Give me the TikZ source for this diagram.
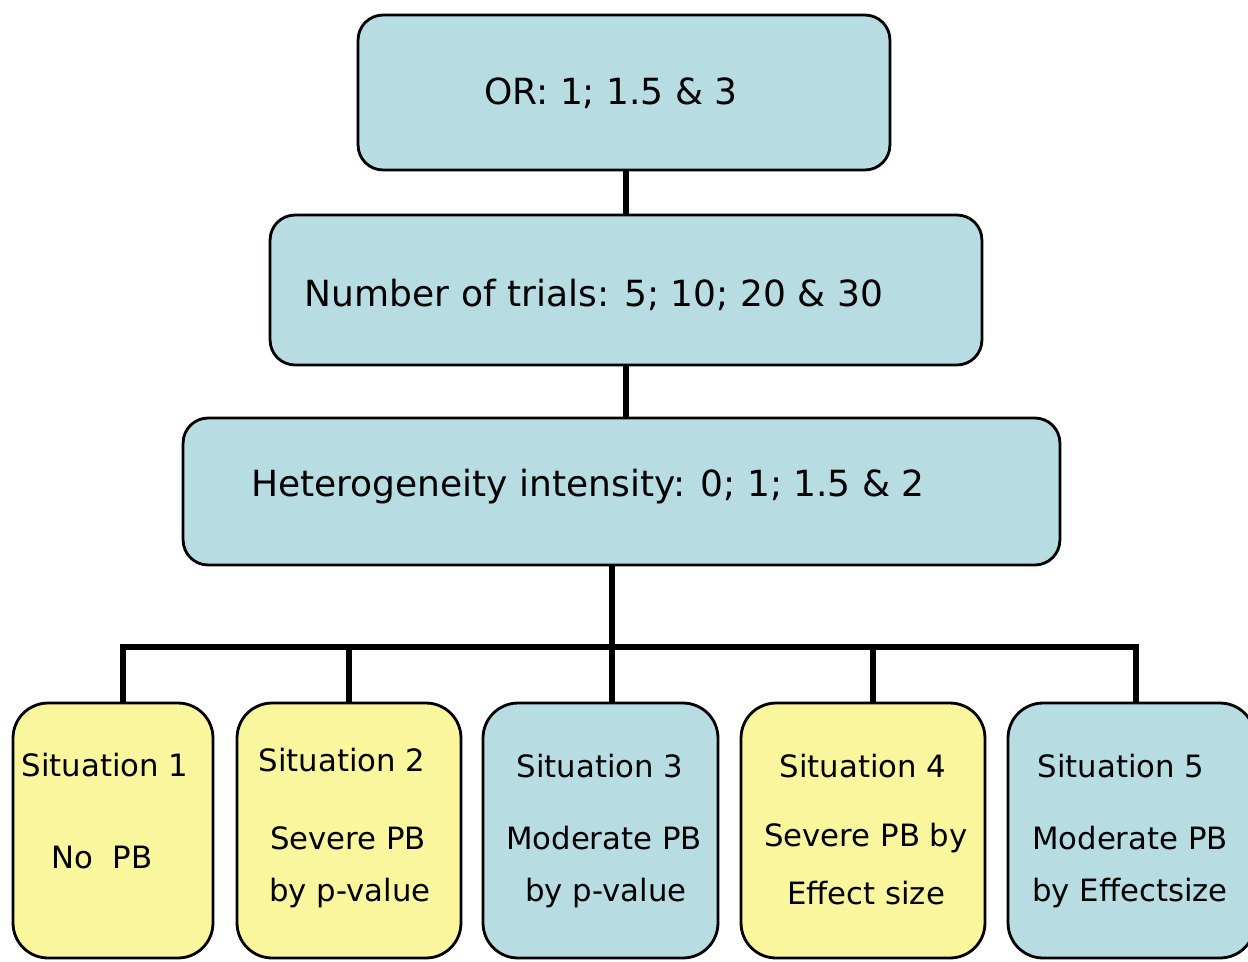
\documentclass[tikz,border=0pt]{standalone}
\usepackage{fontspec}
\setmainfont{DejaVu Sans}
\definecolor{boxblue}{RGB}{183,221,227}
\definecolor{boxyellow}{RGB}{250,246,158}
\tikzset{
  levelbox/.style={draw=black,line width=1.6pt,rounded corners=0.5cm,fill=boxblue},
  sitbox/.style={draw=black,line width=1.6pt,rounded corners=0.7cm,minimum height=5.1cm},
  bigtxt/.style={font=\fontsize{20.5}{24}\selectfont,inner sep=0pt},
  sittxt/.style={font=\fontsize{17.5}{21}\selectfont,inner sep=0pt},
  link/.style={line width=3pt}
}
\begin{document}
\begin{tikzpicture}[x=0.02cm,y=-0.02cm]
		\useasboundingbox (0,0) rectangle (1248,961);
		% parameter levels
		\node[levelbox,minimum width=10.64cm,minimum height=3.1cm] (or) at (624,92.5) {};
		\node[levelbox,minimum width=14.24cm,minimum height=3.0cm] (trials) at (626,290) {};
		\node[levelbox,minimum width=17.54cm,minimum height=2.94cm] (het) at (621.5,491.5) {};
		\node[bigtxt] (ortxt) at (611,93) {OR: 1; 1.5 \& 3};
		\node[bigtxt] (trialstxt) at (594,295) {Number of trials: 5; 10; 20 \& 30};
		\node[bigtxt] (hettxt) at (588,487) {Heterogeneity intensity: 0; 1; 1.5 \& 2};
		% situations
		\node[sitbox,fill=boxyellow,minimum width=4.0cm] (s1) at (113,830.5) {};
		\node[sitbox,fill=boxyellow,minimum width=4.48cm] (s2) at (349,830.5) {};
		\node[sitbox,fill=boxblue,minimum width=4.7cm] (s3) at (600.5,830.5) {};
		\node[sitbox,fill=boxyellow,minimum width=4.88cm] (s4) at (863,830.5) {};
		\node[sitbox,fill=boxblue,minimum width=4.94cm] (s5) at (1131.5,830.5) {};
		\node[sittxt] (s1a) at (105,765) {Situation 1};
		\node[sittxt] (s1b) at (102,857) {No\ \ PB};
		\node[sittxt] (s2a) at (342,760) {Situation 2};
		\node[sittxt] (s2b) at (348,838) {Severe PB};
		\node[sittxt] (s2c) at (350,893) {by p-value};
		\node[sittxt] (s3a) at (600,766) {Situation 3};
		\node[sittxt] (s3b) at (604,838) {Moderate PB};
		\node[sittxt] (s3c) at (606,893) {by p-value};
		\node[sittxt] (s4a) at (863,766) {Situation 4};
		\node[sittxt] (s4b) at (866,838) {Severe PB by};
		\node[sittxt] (s4c) at (866,893) {Effect size};
		\node[sittxt] (s5a) at (1121,766) {Situation 5};
		\node[sittxt] (s5b) at (1130,838) {Moderate PB};
		\node[sittxt] (s5c) at (1130,893) {by Effectsize};
		% connectors
		\draw[link] (or.south -| trials.north) -- (trials.north);
		\draw[link] (trials.south) -- (trials.south |- het.north);
		\coordinate (bus) at (612,647);
		\draw[link] (het.south -| bus) -- (bus);
		\foreach \x/\n in {123/s1,349/s2,612/s3,873/s4,1136/s5}
			\coordinate (d\n) at (\x,647);
		\draw[link,line cap=rect] (ds1) -- (ds5);
		\foreach \n in {s1,s2,s3,s4,s5}
			\draw[link] (d\n) -- (d\n |- \n.north);
\end{tikzpicture}
\end{document}
